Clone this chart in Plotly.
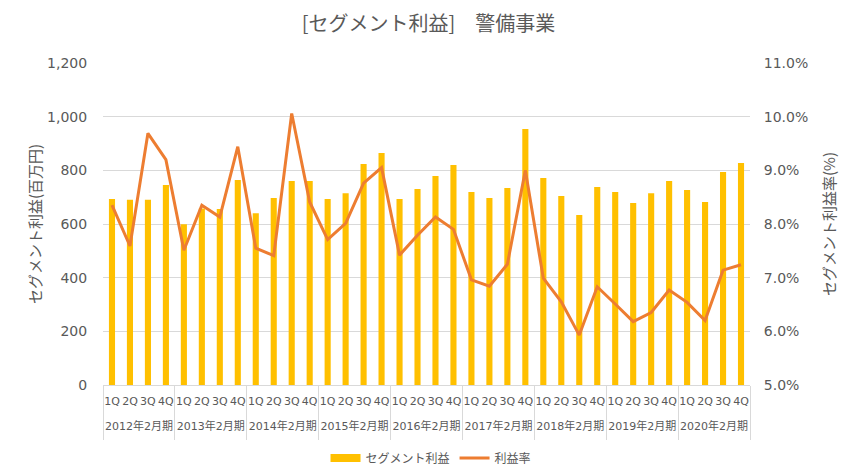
import plotly.graph_objects as go

years = ["2012年2月期", "2013年2月期", "2014年2月期", "2015年2月期", "2016年2月期",
         "2017年2月期", "2018年2月期", "2019年2月期", "2020年2月期"]
quarters = ["1Q", "2Q", "3Q", "4Q"]

profit = [693, 690, 690, 745,
          599, 658, 656, 764,
          640, 697, 760, 760,
          693, 715, 824, 865,
          693, 730, 779, 820,
          719, 697, 734, 954,
          771, 704, 634, 738,
          719, 678, 715, 760,
          727, 682, 794, 827]

margin_pct = [8.35, 7.59, 9.69, 9.20,
              7.51, 8.35, 8.13, 9.44,
              7.55, 7.41, 10.06, 8.41,
              7.71, 8.01, 8.76, 9.05,
              7.42, 7.79, 8.13, 7.90,
              6.96, 6.84, 7.25, 9.00,
              6.99, 6.55, 5.93, 6.83,
              6.51, 6.18, 6.35, 6.77,
              6.54, 6.20, 7.14, 7.24]

x_year = [y for y in years for _ in quarters]
x_q = [q for _ in years for q in quarters]
rate = [v / 100 for v in margin_pct]

n = len(x_q)
nq = len(quarters)
q_pos = list(range(n))
year_pos = [i * nq + (nq - 1) / 2 for i in range(len(years))]
div_pos = [i * nq - 0.5 for i in range(len(years) + 1)]

FONT = "DejaVu Sans, Noto Sans CJK JP"
CJK = "Noto Sans CJK JP"
GRAY = "#595959"
BAR = "#FFC000"
LINE = "#ED7D31"
GRID = "#D9D9D9"

fig = go.Figure()
fig.add_trace(go.Bar(
    x=[x_year, x_q], y=profit, name="セグメント利益", showlegend=False,
    marker=dict(color=BAR, line=dict(width=0)),
))
fig.add_trace(go.Scatter(
    x=[x_year, x_q], y=rate, name="利益率", yaxis="y2", mode="lines",
    line=dict(color=LINE, width=3), showlegend=False,
))
# legend entries
fig.add_trace(go.Scatter(
    x=[None], y=[None], name="セグメント利益", mode="lines",
    line=dict(color=BAR, width=8),
))
fig.add_trace(go.Scatter(
    x=[None], y=[None], name="利益率", mode="lines",
    line=dict(color=LINE, width=3),
))
# empty traces so the label axes are drawn
for ax in ("x2", "x3"):
    fig.add_trace(go.Scatter(x=[None], y=[None], xaxis=ax, yaxis="y",
                             showlegend=False, hoverinfo="skip", mode="lines"))

xr = [-0.5, n - 0.5]

fig.update_layout(
    width=851, height=468,
    margin=dict(l=95, r=109, t=55, b=91, autoexpand=False),
    paper_bgcolor="white", plot_bgcolor="white",
    font=dict(family=FONT, color=GRAY, size=12),
    title=dict(text="[セグメント利益]\u3000警備事業", x=0.494, xanchor="center", y=0.966,
               yanchor="middle", font=dict(family=CJK, size=20, color=GRAY)),
    bargap=0.66,
    showlegend=True,
    legend=dict(orientation="h", x=0.507, xanchor="center", y=-0.227, yanchor="middle",
                font=dict(family=CJK, size=12, color=GRAY), itemwidth=30,
                tracegroupgap=0),
    xaxis=dict(
        type="multicategory",
        range=xr,
        showline=True, linecolor=GRID, linewidth=1,
        showticklabels=False, showdividers=False,
        ticks="", showgrid=False,
        automargin=False,
    ),
    xaxis2=dict(
        overlaying="x", anchor="y", side="bottom", type="linear",
        range=xr, tickmode="array", tickvals=q_pos, ticktext=x_q,
        ticks="", showgrid=False, showline=False, zeroline=False,
        tickfont=dict(family=FONT, size=11, color=GRAY), tickangle=0,
        ticklabelstandoff=8,
        automargin=False,
    ),
    xaxis3=dict(
        overlaying="x", anchor="y", side="bottom", type="linear",
        range=xr, tickmode="array", tickvals=year_pos, ticktext=years,
        ticks="", showgrid=False, showline=False, zeroline=False,
        tickfont=dict(family=FONT, size=11, color=GRAY), tickangle=0,
        ticklabelstandoff=33,
        minor=dict(tickmode="array", tickvals=div_pos, ticks="outside",
                   ticklen=54, tickcolor=GRID, tickwidth=1, showgrid=False),
        automargin=False,
    ),
    yaxis=dict(
        range=[0, 1200], dtick=200, tickformat=",",
        showgrid=True, gridcolor=GRID, gridwidth=1,
        zeroline=False, showline=False,
        tickfont=dict(family="DejaVu Sans", size=14, color=GRAY),
        title=dict(text="セグメント利益(百万円)", font=dict(family=CJK, size=15, color=GRAY), standoff=1),
        ticklen=12, tickcolor="white", ticks="outside",
        automargin=False,
    ),
    yaxis2=dict(
        overlaying="y", side="right",
        range=[0.05, 0.11], dtick=0.01, tickformat=".1%",
        showgrid=False, zeroline=False, showline=False,
        tickfont=dict(family="DejaVu Sans", size=14, color=GRAY),
        title=dict(text="セグメント利益率(%)", font=dict(family=CJK, size=15, color=GRAY), standoff=17),
        ticklen=10, tickcolor="white", ticks="outside",
        automargin=False,
    ),
)

fig.write_html("out.html")
